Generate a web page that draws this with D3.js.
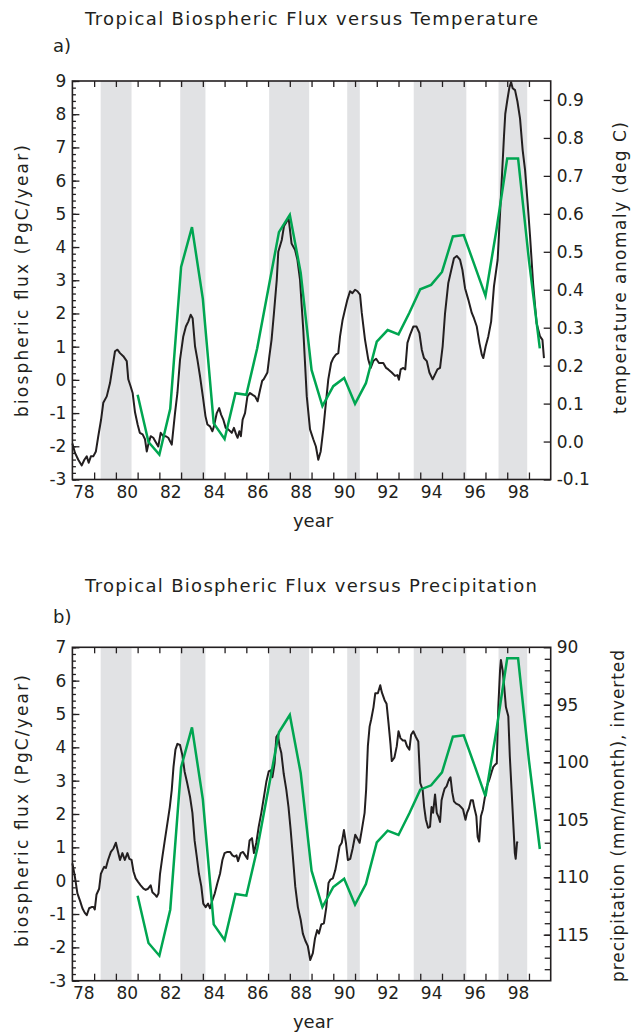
<!DOCTYPE html>
<html><head><meta charset="utf-8">
<script src="https://cdn.jsdelivr.net/npm/d3@7"></script>
<style>
body{margin:0;background:#fff}
svg text{font-family:"DejaVu Sans",sans-serif;fill:#231f20}
</style>
</head><body>
<svg id="c" width="634" height="1034"></svg>
<script>
// ---------------- DATA ----------------
// El Nino periods (shaded)
const bandStart = [1979.3, 1982.96, 1987.05, 1990.64, 1993.7, 1997.6];
const bandEnd   = [1980.72, 1984.12, 1988.89, 1991.22, 1996.12, 1998.92];

// Tropical biospheric flux (PgC/year), semi-annual (green, both panels)
const fluxYears = [1981.0,1981.5,1982.0,1982.5,1983.0,1983.5,1984.0,1984.5,1985.0,1985.5,
  1986.0,1986.5,1987.0,1987.5,1988.0,1988.5,1989.0,1989.5,1990.0,1990.5,1991.0,1991.5,
  1992.0,1992.5,1993.0,1993.5,1994.0,1994.5,1995.0,1995.5,1996.0,1996.5,1997.0,1997.5,
  1998.0,1998.5,1999.0,1999.5];
const fluxValues = [-0.45,-1.87,-2.25,-0.87,3.4,4.6,2.44,-1.31,-1.78,-0.4,
  -0.45,0.95,2.7,4.45,4.97,3.23,0.3,-0.79,-0.19,0.06,-0.72,-0.1,
  1.15,1.5,1.37,2.02,2.73,2.86,3.25,4.32,4.36,3.45,2.53,4.5,
  6.67,6.67,3.6,0.95];

// Tropical temperature anomaly (deg C), black line panel a
const tempYears = [1978.0,1978.12,1978.27,1978.43,1978.55,1978.66,1978.75,1978.85,1978.96,1979.08,
  1979.19,1979.32,1979.42,1979.58,1979.73,1979.85,1979.96,1980.07,1980.19,1980.34,1980.5,1980.57,
  1980.68,1980.77,1980.88,1981.0,1981.1,1981.23,1981.34,1981.42,1981.49,1981.6,1981.72,1981.85,
  1981.95,1982.06,1982.18,1982.3,1982.41,1982.57,1982.72,1982.83,1982.95,1983.1,1983.22,1983.33,
  1983.44,1983.53,1983.64,1983.75,1983.87,1984.0,1984.12,1984.21,1984.33,1984.44,1984.51,1984.64,
  1984.75,1984.84,1984.94,1985.05,1985.17,1985.33,1985.43,1985.53,1985.6,1985.68,1985.75,1985.83,
  1985.94,1986.05,1986.17,1986.29,1986.4,1986.52,1986.63,1986.73,1986.8,1986.97,1987.06,1987.16,
  1987.27,1987.4,1987.47,1987.63,1987.73,1987.86,1987.95,1988.08,1988.24,1988.35,1988.47,1988.62,
  1988.78,1988.93,1989.08,1989.2,1989.31,1989.42,1989.54,1989.66,1989.77,1989.9,1990.0,1990.12,
  1990.23,1990.31,1990.43,1990.54,1990.65,1990.77,1990.88,1991.0,1991.11,1991.23,1991.31,1991.46,
  1991.61,1991.72,1991.84,1991.97,1992.1,1992.3,1992.43,1992.53,1992.69,1992.84,1992.95,1993.02,
  1993.1,1993.22,1993.31,1993.41,1993.53,1993.68,1993.83,1993.96,1994.07,1994.17,1994.3,1994.42,
  1994.57,1994.68,1994.79,1994.91,1995.03,1995.14,1995.29,1995.55,1995.68,1995.83,1995.94,1996.06,
  1996.21,1996.37,1996.47,1996.6,1996.72,1996.83,1996.9,1997.01,1997.13,1997.26,1997.39,1997.56,
  1997.67,1997.85,1997.91,1998.0,1998.1,1998.18,1998.25,1998.36,1998.47,1998.59,1998.71,1998.82,
  1998.94,1999.05,1999.19,1999.35,1999.51,1999.62,1999.69];
const tempValues = [-0.005,-0.03,-0.048,-0.063,-0.048,-0.039,-0.056,-0.039,-0.039,-0.026,
  0.014,0.058,0.102,0.119,0.154,0.198,0.238,0.242,0.233,0.225,0.212,0.164,
  0.145,0.128,0.077,0.045,0.023,0.019,0.006,-0.026,-0.008,0.014,0.010,-0.003,
  -0.013,0.023,0.014,0.014,0.010,-0.008,0.075,0.128,0.216,0.277,0.303,0.316,
  0.334,0.325,0.251,0.216,0.172,0.119,0.067,0.045,0.040,0.027,0.040,0.075,
  0.088,0.071,0.058,0.036,0.032,0.023,0.036,0.019,0.010,0.027,0.014,0.058,
  0.075,0.119,0.128,0.123,0.119,0.106,0.136,0.160,0.164,0.182,0.225,0.268,
  0.338,0.426,0.500,0.531,0.567,0.580,0.586,0.522,0.505,0.479,0.426,0.294,
  0.119,0.032,0.006,-0.013,-0.048,-0.026,0.032,0.102,0.164,0.207,0.220,0.229,
  0.233,0.277,0.321,0.348,0.374,0.396,0.391,0.400,0.396,0.387,0.339,0.268,
  0.216,0.194,0.212,0.218,0.207,0.207,0.194,0.190,0.182,0.173,0.175,0.163,
  0.190,0.194,0.190,0.260,0.281,0.303,0.303,0.286,0.242,0.220,0.212,0.182,
  0.164,0.177,0.190,0.194,0.251,0.338,0.418,0.483,0.489,0.479,0.452,0.404,
  0.374,0.339,0.325,0.303,0.260,0.229,0.220,0.251,0.277,0.316,0.409,0.479,
  0.601,0.803,0.863,0.898,0.933,0.947,0.931,0.926,0.896,0.851,0.768,0.716,
  0.628,0.541,0.417,0.312,0.277,0.268,0.220];

// Tropical precipitation (mm/month), black line panel b (axis inverted)
const precipYears = [1978.0,1978.11,1978.23,1978.36,1978.46,1978.57,1978.66,1978.77,1978.88,1978.97,
  1979.03,1979.11,1979.23,1979.31,1979.38,1979.46,1979.54,1979.64,1979.77,1979.89,1980.0,1980.1,
  1980.19,1980.3,1980.41,1980.53,1980.62,1980.72,1980.81,1980.91,1981.02,1981.14,1981.27,1981.37,
  1981.48,1981.6,1981.68,1981.79,1981.88,1981.96,1982.03,1982.14,1982.25,1982.37,1982.48,1982.57,
  1982.65,1982.74,1982.83,1982.95,1983.06,1983.16,1983.28,1983.41,1983.52,1983.62,1983.72,1983.82,
  1983.93,1984.02,1984.13,1984.24,1984.33,1984.44,1984.55,1984.67,1984.79,1984.9,1985.0,1985.13,
  1985.25,1985.36,1985.46,1985.55,1985.62,1985.74,1985.85,1985.95,1986.05,1986.15,1986.26,1986.35,
  1986.46,1986.57,1986.69,1986.81,1986.92,1987.03,1987.12,1987.2,1987.3,1987.38,1987.45,1987.53,
  1987.61,1987.72,1987.84,1987.94,1988.04,1988.14,1988.25,1988.37,1988.5,1988.6,1988.71,1988.83,
  1988.94,1989.06,1989.16,1989.26,1989.34,1989.45,1989.57,1989.68,1989.78,1989.87,1989.98,1990.09,
  1990.18,1990.29,1990.39,1990.49,1990.58,1990.67,1990.78,1990.89,1991.01,1991.1,1991.21,1991.31,
  1991.44,1991.51,1991.59,1991.67,1991.74,1991.85,1991.93,1992.05,1992.16,1992.23,1992.36,1992.45,
  1992.54,1992.63,1992.69,1992.81,1992.92,1993.0,1993.09,1993.2,1993.3,1993.39,1993.5,1993.58,
  1993.68,1993.8,1993.91,1994.0,1994.11,1994.18,1994.26,1994.36,1994.45,1994.52,1994.59,1994.68,
  1994.76,1994.83,1994.91,1994.98,1995.06,1995.12,1995.21,1995.32,1995.39,1995.47,1995.55,1995.65,
  1995.77,1995.88,1995.97,1996.08,1996.15,1996.24,1996.33,1996.42,1996.48,1996.58,1996.64,1996.71,
  1996.79,1996.88,1996.95,1997.06,1997.18,1997.29,1997.36,1997.45,1997.52,1997.59,1997.67,1997.71,
  1997.79,1997.86,1997.94,1998.05,1998.12,1998.2,1998.27,1998.35,1998.39,1998.45,1998.48];
const precipValues = [108.8,109.9,111.4,112.1,112.7,113.1,113.3,112.7,112.6,112.6,
  112.8,111.5,111.0,109.7,109.4,109.1,109.2,108.5,107.8,107.5,107.0,107.8,
  108.5,107.9,108.5,107.9,108.4,108.5,109.5,110.1,110.4,110.7,111.0,111.1,
  111.0,110.7,111.3,111.5,111.7,111.4,109.7,108.2,106.8,105.3,103.9,102.4,
  100.4,98.9,98.4,98.5,99.4,100.8,101.8,103.0,104.4,106.8,108.2,109.7,
  110.8,112.3,112.6,112.3,112.7,112.0,111.4,110.5,109.7,108.5,107.9,107.8,
  107.8,108.1,108.2,108.1,108.6,107.9,107.8,108.1,108.4,106.8,106.6,107.9,
  107.0,105.6,104.4,103.0,101.7,100.8,100.7,101.3,100.1,97.8,97.6,98.6,
  99.2,101.0,102.4,103.9,105.9,108.2,110.8,112.6,113.7,114.9,115.5,116.0,
  117.2,116.6,115.3,114.6,114.9,114.1,114.0,112.6,110.5,110.2,110.1,109.4,
  108.5,107.3,107.0,105.9,107.0,108.5,108.4,107.5,106.3,106.6,107.0,105.9,
  104.4,102.4,98.6,96.9,96.3,95.2,94.0,94.0,93.3,93.9,94.6,94.9,
  96.6,98.4,99.9,99.6,98.6,97.3,97.9,98.1,98.1,98.6,98.9,97.6,
  97.3,97.8,98.2,101.8,102.4,103.9,105.0,105.7,105.6,103.9,104.4,102.8,
  104.4,104.7,105.2,103.3,102.7,102.3,102.1,101.5,101.3,102.6,103.4,103.6,
  103.7,103.9,104.1,105.0,104.4,104.0,103.3,103.3,103.9,104.7,106.5,106.9,
  104.7,104.1,103.3,102.1,101.5,100.8,100.4,100.2,100.1,95.2,92.0,91.1,
  92.0,93.4,95.2,96.0,99.5,102.4,105.0,107.9,108.4,107.0,106.9];

// Axis ticks and labels
const yearTicks = [1979,1980,1981,1982,1983,1984,1985,1986,1987,1988,1989,1990,1991,1992,1993,1994,1995,1996,1997,1998,1999];
const yearLabelPos = [1978.5,1980.5,1982.5,1984.5,1986.5,1988.5,1990.5,1992.5,1994.5,1996.5,1998.5];
const yearLabels = ["78","80","82","84","86","88","90","92","94","96","98"];
const fluxTicksA = [-3,-2,-1,0,1,2,3,4,5,6,7,8,9];
const fluxTicksB = [-3,-2,-1,0,1,2,3,4,5,6,7];
const tempTicks = [-0.1,0.0,0.1,0.2,0.3,0.4,0.5,0.6,0.7,0.8,0.9];
const precipTicks = [90,95,100,105,110,115];

// ---------------- DRAWING ----------------
const INK = "#231f20", GREEN = "#00a651", GRAY = "#e1e2e4";
const svg = d3.select("#c");
const X0 = 72.4, X1 = 550.7;
const x = d3.scaleLinear().domain([1978, 2000]).range([X0, X1]);

function styleAxis(g){
  g.select(".domain").remove();
  g.selectAll(".tick line").attr("stroke", INK).attr("stroke-width", 1.3);
  g.selectAll(".tick text").attr("font-size", 17).attr("font-family", '"DejaVu Sans",sans-serif').attr("fill", INK);
}

function panel(o){
  const g = svg.append("g");
  const yL = d3.scaleLinear().domain(o.leftDomain).range([o.bottom, o.top]);
  const yR = o.rightScale;
  // bands
  g.selectAll("rect.band").data(d3.range(bandStart.length)).join("rect")
    .attr("x", i => x(bandStart[i])).attr("width", i => x(bandEnd[i]) - x(bandStart[i]))
    .attr("y", o.top).attr("height", o.bottom - o.top).attr("fill", GRAY);
  // bottom ticks
  g.append("g").attr("transform", `translate(0,${o.bottom})`)
    .call(d3.axisBottom(x).tickValues(yearTicks).tickSize(-7).tickFormat(""))
    .call(styleAxis);
  g.append("g").attr("transform", `translate(0,${o.bottom})`)
    .call(d3.axisBottom(x).tickValues(yearLabelPos).tickSize(0).tickPadding(6)
      .tickFormat((d,i) => yearLabels[i]))
    .call(styleAxis);
  // top ticks
  g.append("g").attr("transform", `translate(0,${o.top})`)
    .call(d3.axisTop(x).tickValues(yearTicks).tickSize(-6).tickFormat(""))
    .call(styleAxis);
  // left axis
  g.append("g").attr("transform", `translate(${X0},0)`)
    .call(d3.axisLeft(yL).tickValues(d3.range(o.leftDomain[0], o.leftDomain[1] + 0.001, 0.2)).tickSize(-3.5).tickFormat(""))
    .call(styleAxis);
  g.append("g").attr("transform", `translate(${X0},0)`)
    .call(d3.axisLeft(yL).tickValues(o.leftTicks).tickSize(-7).tickPadding(6).tickFormat(d => String(d)))
    .call(styleAxis);
  // right axis
  if (o.rightMinor){
    g.append("g").attr("transform", `translate(${X1},0)`)
      .call(d3.axisRight(yR).tickValues(o.rightMinor).tickSize(-6).tickFormat(""))
      .call(styleAxis);
  }
  g.append("g").attr("transform", `translate(${X1},0)`)
    .call(d3.axisRight(yR).tickValues(o.rightTicks).tickSize(-7).tickPadding(6).tickFormat(o.rightFmt))
    .call(styleAxis);
  // lines
  const blackLine = d3.line().x((d,i) => x(o.blackYears[i])).y((d,i) => yR(o.blackValues[i]));
  g.append("path").datum(o.blackValues).attr("d", blackLine)
    .attr("fill", "none").attr("stroke", INK).attr("stroke-width", 2).attr("stroke-linejoin", "round");
  const greenLine = d3.line().x((d,i) => x(fluxYears[i])).y((d,i) => yL(fluxValues[i]));
  g.append("path").datum(fluxValues).attr("d", greenLine)
    .attr("fill", "none").attr("stroke", GREEN).attr("stroke-width", 2.5).attr("stroke-linejoin", "miter");
  // frame
  g.append("rect").attr("x", X0).attr("y", o.top).attr("width", X1 - X0).attr("height", o.bottom - o.top)
    .attr("fill", "none").attr("stroke", INK).attr("stroke-width", 1.6);
  // texts
  g.append("text").attr("x", 85).attr("y", o.titleY).attr("font-size", 18)
    .attr("textLength", o.titleLen).attr("lengthAdjust", "spacing").text(o.title);
  g.append("text").attr("x", 53).attr("y", o.tagY).attr("font-size", 18).text(o.tag);
  g.append("text").attr("x", 313).attr("y", o.bottom + 47).attr("text-anchor", "middle")
    .attr("font-size", 18).text("year");
  g.append("text").attr("transform", `translate(28,${o.leftLabelY}) rotate(-90)`)
    .attr("text-anchor", "middle").attr("font-size", 17)
    .attr("textLength", o.leftLabelLen).attr("lengthAdjust", "spacing").text("biospheric flux (PgC/year)");
  g.append("text").attr("transform", `translate(${o.rightLabelX},${o.rightLabelY}) rotate(-90)`)
    .attr("text-anchor", "middle").attr("font-size", 17)
    .attr("textLength", o.rightLabelLen).attr("lengthAdjust", "spacing").text(o.rightLabel);
}

panel({
  top: 81, bottom: 479.5,
  leftDomain: [-3, 9], leftTicks: fluxTicksA,
  rightScale: d3.scaleLinear().domain([-0.1, 0.95]).range([479.5, 81]),
  rightTicks: tempTicks, rightFmt: d => d.toFixed(1),
  blackYears: tempYears, blackValues: tempValues,
  title: "Tropical Biospheric Flux versus Temperature", titleY: 25, titleLen: 453,
  tag: "a)", tagY: 52,
  leftLabelY: 281, leftLabelLen: 272,
  rightLabelX: 626, rightLabelY: 268, rightLabelLen: 292,
  rightLabel: "temperature anomaly (deg C)"
});

panel({
  top: 647.3, bottom: 980.7,
  leftDomain: [-3, 7], leftTicks: fluxTicksB,
  rightScale: d3.scaleLinear().domain([90, 119]).range([647.3, 980.7]),
  rightTicks: precipTicks, rightFmt: d => String(d),
  rightMinor: d3.range(91, 119, 1),
  blackYears: precipYears, blackValues: precipValues,
  title: "Tropical Biospheric Flux versus Precipitation", titleY: 592, titleLen: 452,
  tag: "b)", tagY: 623,
  leftLabelY: 811, leftLabelLen: 272,
  rightLabelX: 624, rightLabelY: 816, rightLabelLen: 332,
  rightLabel: "precipitation (mm/month), inverted"
});
</script>
</body></html>
